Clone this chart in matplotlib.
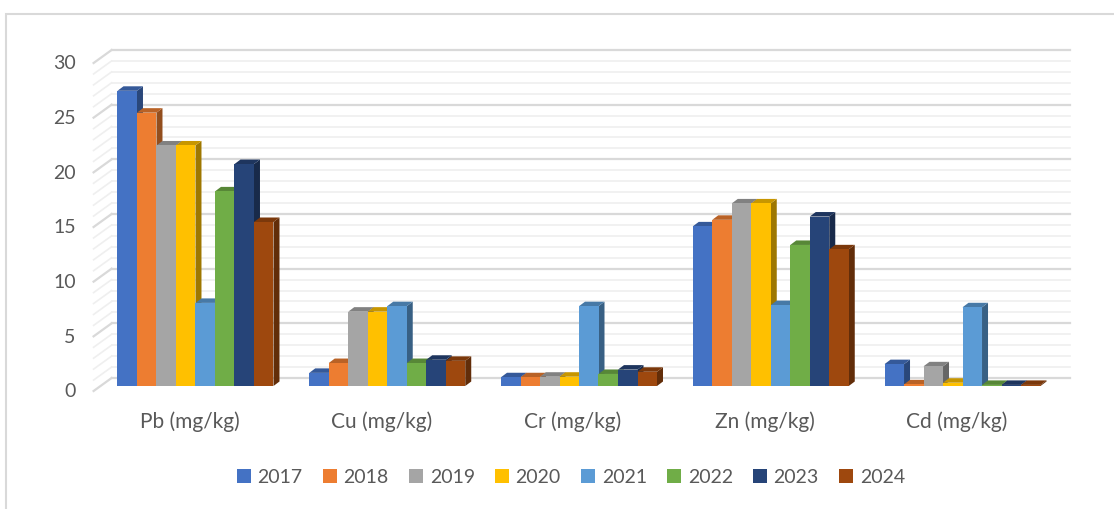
import numpy as np
import matplotlib
matplotlib.use("Agg")
import matplotlib.pyplot as plt
from matplotlib.patches import Rectangle, Polygon
from matplotlib.lines import Line2D
import matplotlib.colors as mcolors

# ---------------- data ----------------
categories = ["Pb (mg/kg)", "Cu (mg/kg)", "Cr (mg/kg)", "Zn (mg/kg)", "Cd (mg/kg)"]
years = ["2017", "2018", "2019", "2020", "2021", "2022", "2023", "2024"]
pb = [27.0, 25.0, 22.0, 22.0, 7.6, 17.8, 20.3, 15.0]
cu = [1.2, 2.1, 6.8, 6.8, 7.3, 2.1, 2.4, 2.3]
cr = [0.8, 0.8, 0.85, 0.85, 7.3, 1.1, 1.5, 1.3]
zn = [14.6, 15.2, 16.7, 16.7, 7.4, 12.9, 15.5, 12.5]
cd = [2.0, 0.15, 1.8, 0.3, 7.2, 0.1, 0.1, 0.1]
y_ticks = [0, 5, 10, 15, 20, 25, 30]

values = np.array([pb, cu, cr, zn, cd])  # shape (category, year)
colors = ["#4472C4", "#ED7D31", "#A5A5A5", "#FFC000",
          "#5B9BD5", "#70AD47", "#264478", "#9E480E"]

plt.rcParams['font.family'] = ['Lato', 'DejaVu Sans']
text_color = "#595959"

W, H = 1114, 510
fig = plt.figure(figsize=(W / 100, H / 100), dpi=100)
fig.patch.set_facecolor("white")

# axes = front plane of the bars
ax_l, ax_r, ax_b, ax_t = 99.6, 1058.4, 387.0, 59.0
ax = fig.add_axes([ax_l / W, (H - ax_b) / H, (ax_r - ax_l) / W, (ax_b - ax_t) / H])
ax.set_xlim(-0.5, len(categories) - 0.5)
ax.set_ylim(0, 30)
ax.set_axis_off()

sx = (ax_r - ax_l) / (len(categories))   # px per x unit
sy = (ax_b - ax_t) / 30.0                # px per y unit


def px(dx, dy):
    """pixel offset -> data offset (dy positive = up)"""
    return dx / sx, dy / sy


# offsets (px) relative to bar front plane
front_off = px(-6, -5)
back_off = px(12, 8)
bar_depth = px(6, 4.5)

x0 = -0.5
x1 = len(categories) - 0.5

# gridlines on back wall and left wall
for v in range(0, 31):
    major = (v % 5 == 0)
    c = "#D9D9D9" if major else "#EFEFEF"
    lw = 1.6 if major else 1.2
    ax.add_line(Line2D([x0 + back_off[0], x1 + back_off[0]],
                       [v + back_off[1], v + back_off[1]],
                       color=c, lw=lw, clip_on=False, zorder=1))
    ax.add_line(Line2D([x0 + front_off[0], x0 + back_off[0]],
                       [v + front_off[1], v + back_off[1]],
                       color=c, lw=lw, clip_on=False, zorder=1))

# y tick labels
for v in y_ticks:
    lx = x0 + front_off[0] - 18 / sx
    ax.text(lx, v + front_off[1], str(v), ha="right", va="center",
            fontsize=14, color=text_color, clip_on=False)

# bars
n = len(years)
bw = 19.5 / sx
group_w = n * bw


def shade(c, f):
    r, g, b = mcolors.to_rgb(c)
    return (r * f, g * f, b * f)


z = 2
for ci in range(len(categories)):
    start = ci - group_w / 2
    for yi in range(n):
        h = values[ci, yi]
        xl = start + yi * bw
        xr = xl + bw
        ddx, ddy = bar_depth
        side = Polygon([(xr, 0), (xr, h), (xr + ddx, h + ddy), (xr + ddx, ddy)],
                       closed=True, facecolor=shade(colors[yi], 0.62),
                       edgecolor="none", zorder=z, clip_on=False)
        top = Polygon([(xl, h), (xr, h), (xr + ddx, h + ddy), (xl + ddx, h + ddy)],
                      closed=True, facecolor=shade(colors[yi], 0.78),
                      edgecolor="none", zorder=z, clip_on=False)
        ax.add_patch(side)
        ax.add_patch(top)
        ax.bar(xl, h, width=bw, align="edge", color=colors[yi],
               edgecolor="none", zorder=z + 0.5, clip_on=False)
        z += 1

# category labels
for ci, name in enumerate(categories):
    ax.text(ci + front_off[0], -3.2, name, ha="center", va="center",
            fontsize=15, color=text_color, clip_on=False)

# legend
handles = [Rectangle((0, 0), 1, 1, facecolor=c, edgecolor="none") for c in colors]
fig.legend(handles, years, loc="center", bbox_to_anchor=(571 / W, 1 - 478 / H),
           ncol=n, frameon=False, fontsize=14, labelcolor=text_color,
           handlelength=0.7, handleheight=0.7, handletextpad=0.35,
           columnspacing=1.05)

# chart border
fig.add_artist(Rectangle((6 / W, -0.1), 1.2, (H - 15) / H + 0.1,
                         transform=fig.transFigure, fill=False,
                         edgecolor="#D9D9D9", lw=1.5))

fig.savefig("out.png", dpi=100, facecolor="white")
